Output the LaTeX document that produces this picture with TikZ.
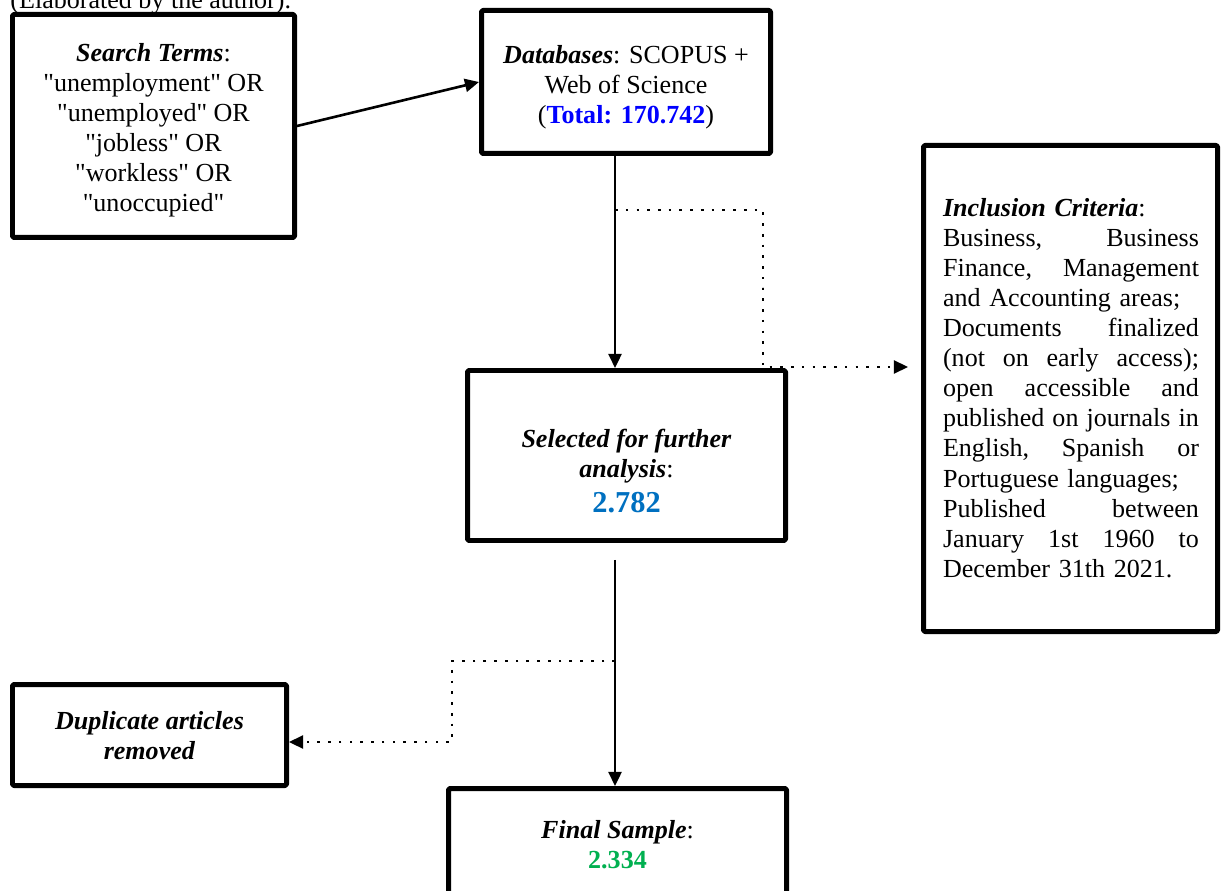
\documentclass[tikz,border=0pt]{standalone}
\usepackage{fontspec}
\setmainfont{Liberation Serif}
\usetikzlibrary{arrows.meta,calc}
\definecolor{totalblue}{RGB}{0,0,255}
\definecolor{selblue}{RGB}{0,112,192}
\definecolor{finalgreen}{RGB}{0,176,80}
% width of the criteria text column and a justified line of that width
\newlength\critw
\setlength\critw{117.9pt}
\newcommand\jline[1]{\leavevmode\hbox to \critw{#1}}
\newcommand\qq{\textquotedbl}

\begin{document}
\begin{tikzpicture}[x=0.4607pt,y=-0.4607pt,
  every node/.style={font=\fontsize{12}{13.85}\selectfont},
  box/.style 2 args={draw, line width=2.3pt, line join=round, rounded corners=0.6pt,
    minimum width=#1*0.4607pt, minimum height=#2*0.4607pt, inner sep=0pt, align=center},
  label/.style={inner sep=0pt, align=center},
  flow/.style={line width=1.2pt, -{Triangle[length=6.5pt,width=6pt]}},
  side/.style={line width=1.2pt, dash pattern=on 1.2pt off 3.75pt,
    -{Triangle[length=6.5pt,width=6pt]}},
]
\useasboundingbox (0,0) rectangle (1222,891);

% caption above the chart
\node[anchor=base west, inner sep=0pt] (caption) at (10,9) {(Elaborated by the author).};

% boxes
\node[box={282}{223}] (search) at (153.5,126) {};
\node[label] (searchText) at (153.5,130)
  {\textbf{\textit{Search Terms}}:\\\qq unemployment\qq{} OR\\\qq unemployed\qq{} OR\\
   \qq jobless\qq{} OR\\\qq workless\qq{} OR\\\qq unoccupied\qq};

\node[box={289}{143}] (db) at (626,82) {};
\node[label] (dbText) at (626,87)
  {\textbf{\textit{Databases}}: SCOPUS +\\Web of Science\\(\textcolor{totalblue}{\textbf{Total: 170.742}})};

\node[box={294}{486}] (incl) at (1070.5,388.5) {};
\node[inner sep=0pt, text width=\critw, align=left] (inclText) at (1071,388)
  {\textbf{\textit{Inclusion Criteria}}:\\
   \jline{Business,\hfill Business}\\
   \jline{Finance,\hfill Management}\\
   and Accounting areas;\\
   \jline{Documents\hfill finalized}\\
   \jline{(not\hfill on\hfill early\hfill access);}\\
   \jline{open\hfill accessible\hfill and}\\
   \jline{published\hfill on\hfill journals\hfill in}\\
   \jline{English,\hfill Spanish\hfill or}\\
   Portuguese languages;\\
   \jline{Published\hfill between}\\
   \jline{January\hfill 1st\hfill 1960\hfill to}\\
   December 31th 2021.};

\node[box={318}{170}] (sel) at (626.5,455.5) {};
\node[label] (selText) at (626.5,471)
  {\textbf{\textit{Selected for further}}\\\textbf{\textit{analysis}}:\\[2.5pt]
   {\fontsize{14}{16}\selectfont\bfseries\color{selblue}2.782}};

\node[box={274}{101}] (dup) at (149.5,735) {};
\node[label] (dupText) at (149.5,736)
  {\textbf{\textit{Duplicate articles}}\\\textbf{\textit{removed}}};

\node[box={338}{180}] (final) at (617.5,878.5) {};
\node[label] (finalText) at (617.5,845)
  {\textbf{\textit{Final Sample}}:\\\textcolor{finalgreen}{\textbf{2.334}}};

% connectors
\coordinate (spine) at (615,0);
\coordinate (fork1) at (615,210);
\coordinate (fork2) at (615,661);
\coordinate (toIncl) at ($(incl.west)+(0,-21.5)$);
\coordinate (toDup) at ($(dup.east)+(0,7)$);

\draw[flow] (search.east) -- (db.west);
\draw[flow] (db.south -| spine) -- (sel.north -| spine);
\draw[flow, shorten <=7.8pt] (sel.south -| spine) -- (final.north -| spine);

\draw[side, shorten >=6pt] (fork1) -| (763,288) |- (toIncl);
\draw[side] (fork2) -| (452,700) |- (toDup);
\end{tikzpicture}
\end{document}
